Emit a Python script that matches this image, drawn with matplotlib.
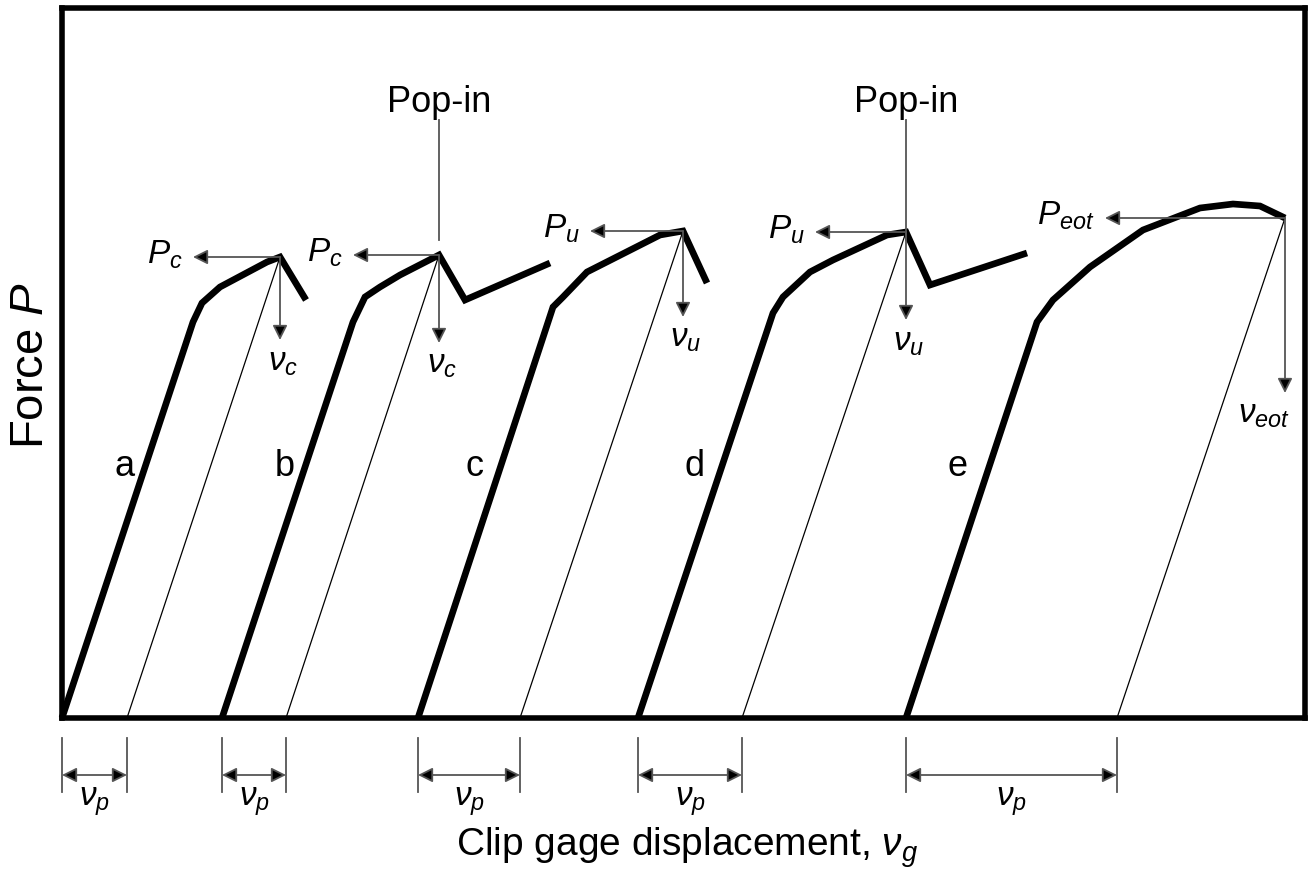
import matplotlib
matplotlib.use("Agg")
import matplotlib.pyplot as plt

plt.rcParams['font.family'] = ['Liberation Sans', 'DejaVu Sans']
plt.rcParams['mathtext.fontset'] = 'custom'
plt.rcParams['mathtext.rm'] = 'Liberation Sans'
plt.rcParams['mathtext.it'] = 'Liberation Sans:italic'

# load-displacement records (schematic units)
a_x = [0, 131, 140, 158, 205, 218, 244]
a_y = [0, 396, 415, 431, 456, 461, 418]
b_x = [160, 291, 303, 318, 338, 377, 403, 488]
b_y = [0, 396, 421, 431, 443, 463, 418, 455]
c_x = [356, 491, 501, 525, 598, 621, 645]
c_y = [0, 411, 421, 446, 483, 487, 435]
d_x = [576, 711, 721, 748, 771, 825, 844, 868, 965]
d_y = [0, 405, 421, 446, 458, 483, 486, 433, 465]
e_x = [844, 975, 991, 1028, 1081, 1138, 1171, 1198, 1223]
e_y = [0, 396, 418, 451, 488, 510, 514, 512, 500]

curves = [(a_x, a_y), (b_x, b_y), (c_x, c_y), (d_x, d_y), (e_x, e_y)]
curve_names = ['a', 'b', 'c', 'd', 'e']
name_x = [63, 223, 413, 633, 896]

# point where force / displacement is read, and end of plastic unloading
peak_x = [218, 377, 621, 844, 1223]
peak_y = [461, 463, 487, 486, 500]
unload_x = [65, 224, 458, 680, 1055]
force_labels = ['$P_c$', '$P_c$', '$P_u$', '$P_u$', '$P_{eot}$']
disp_labels = [r'$\nu_c$', r'$\nu_c$', r'$\nu_u$', r'$\nu_u$', r'$\nu_{eot}$']
force_tip = [131, 291, 528, 753, 1043]
disp_tip = [378, 375, 401, 398, 325]
popin_x = [377, 844]

fig = plt.figure(figsize=(13.08, 8.74), dpi=100)
ax = fig.add_axes([62/1308, 156/874, 1243/1308, 710/874])
ax.set_xlim(0, 1243)
ax.set_ylim(0, 710)
ax.set_xticks([])
ax.set_yticks([])
for s in ax.spines.values():
    s.set_linewidth(4)

gray = '#555555'
head = dict(arrowstyle='-|>', color=gray, lw=1.3, mutation_scale=22,
            fc='black', shrinkA=0, shrinkB=0)

for (cx, cy), nm, nx in zip(curves, curve_names, name_x):
    ax.plot(cx, cy, color='black', lw=4.8, solid_joinstyle='miter', solid_capstyle='butt', clip_on=False)
    ax.text(nx, 251, nm, fontsize=26, ha='center', va='center')

for i in range(5):
    px, py = peak_x[i], peak_y[i]
    ax.plot([px, unload_x[i]], [py, 0], color='black', lw=0.9)
    # force arrow
    ax.annotate('', xy=(force_tip[i], py), xytext=(px, py), arrowprops=head)
    ax.text(force_tip[i] - 10, py + 2, force_labels[i], fontsize=24, ha='right', va='center')
    # displacement arrow
    ax.annotate('', xy=(px, disp_tip[i]), xytext=(px, py), arrowprops=head)
    if i == 4:
        ax.text(px + 5, disp_tip[i] - 22, disp_labels[i], fontsize=24, ha='right', va='center')
    else:
        ax.text(px + 3, disp_tip[i] - 22, disp_labels[i], fontsize=24, ha='center', va='center')

    # plastic displacement dimension below the axis
    x0 = curves[i][0][0]
    x1 = unload_x[i]
    for xx in (x0, x1):
        ax.plot([xx, xx], [-20, -74], color=gray, lw=1.3, clip_on=False)
    ax.annotate('', xy=(x0, -57), xytext=(x1, -57),
                arrowprops=dict(arrowstyle='<|-|>', color=gray, lw=1.3, mutation_scale=22,
                                fc='black', shrinkA=0, shrinkB=0), annotation_clip=False)
    ax.text((x0 + x1) / 2, -84, r'$\nu_p$', fontsize=24, ha='center', va='center')

for xp in popin_x:
    ax.plot([xp, xp], [478, 598], color=gray, lw=1.3)
    ax.text(xp, 615, 'Pop-in', fontsize=26, ha='center', va='center')

ax.text(-31, 353, 'Force $P$', fontsize=34, rotation=90, ha='center', va='center')
ax.text(625, -130, r'Clip gage displacement, $\nu_g$', fontsize=28, ha='center', va='center')

fig.savefig('out.png', dpi=100)
